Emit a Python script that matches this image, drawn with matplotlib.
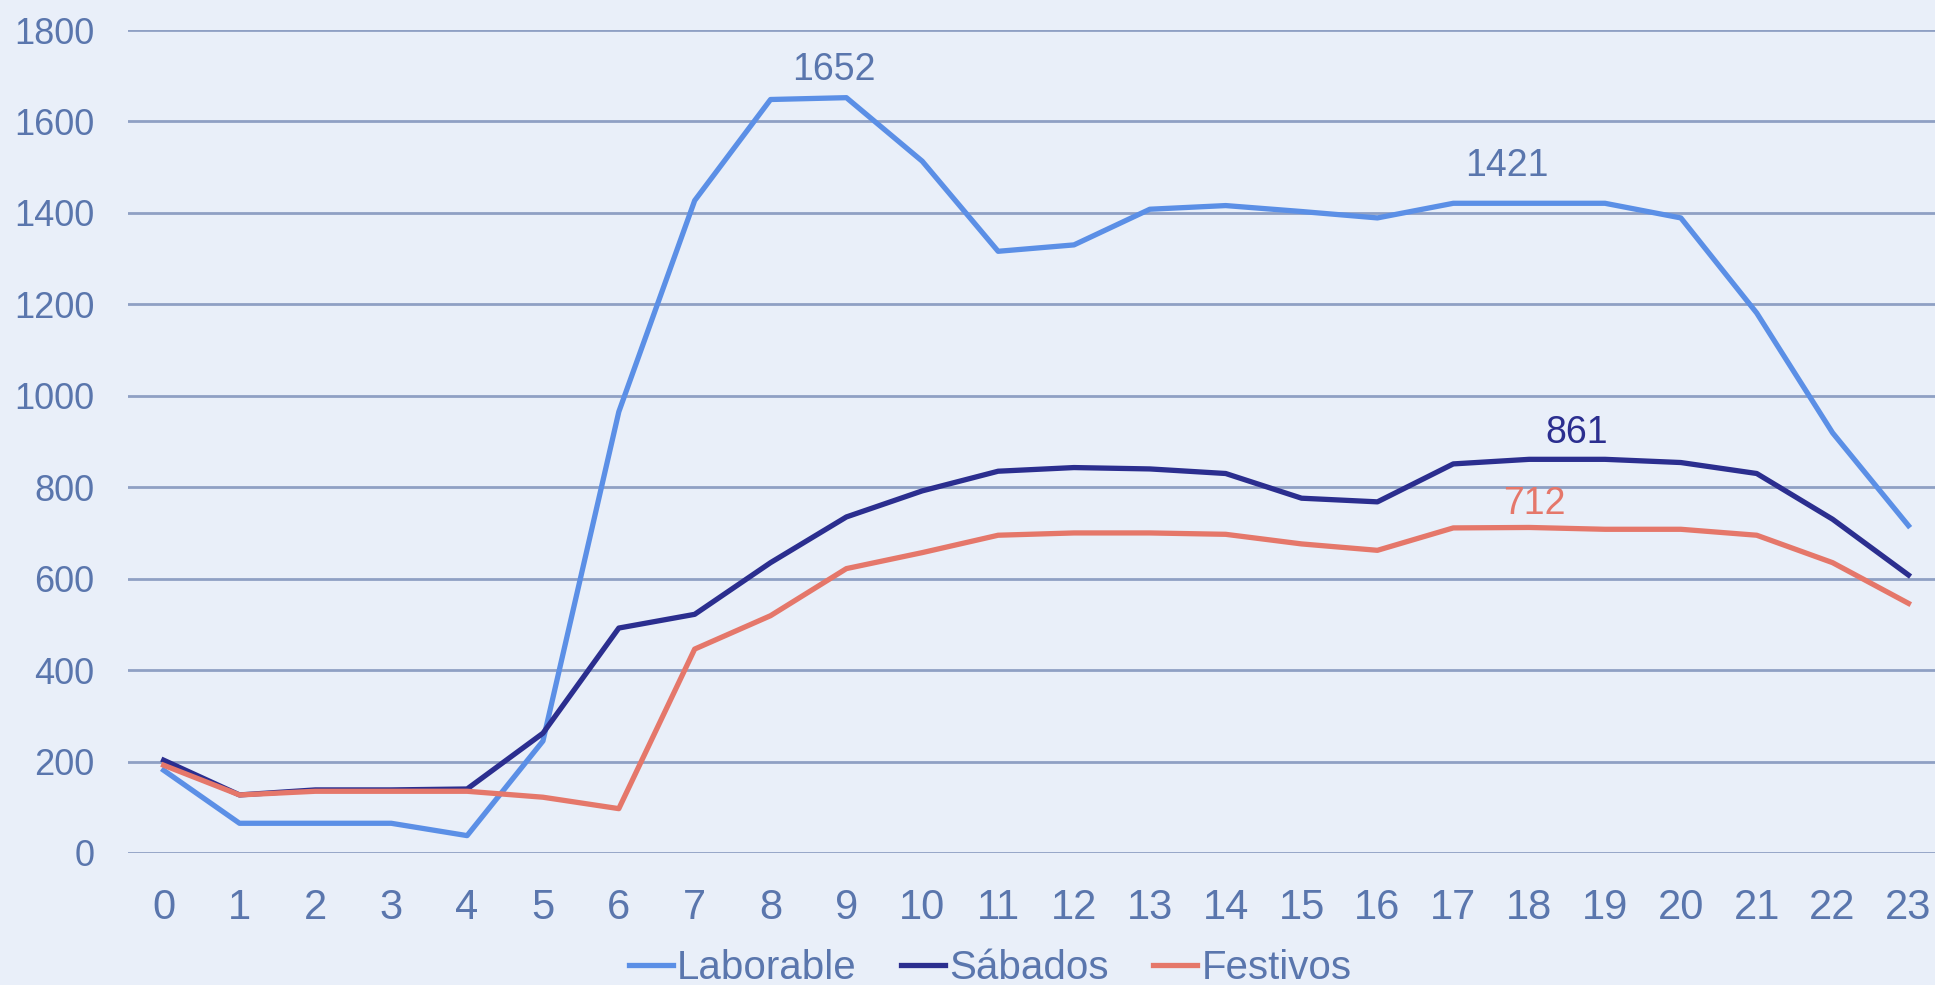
import matplotlib.pyplot as plt

# hourly values
hours = list(range(24))
laborable = [181, 65, 65, 65, 38, 245, 965, 1427, 1648, 1652, 1513, 1316,
             1330, 1408, 1416, 1403, 1389, 1421, 1421, 1421, 1389, 1181, 919, 716]
sabados = [203, 127, 138, 138, 140, 262, 492, 522, 635, 735, 792, 835,
           843, 840, 830, 776, 768, 851, 861, 861, 854, 830, 730, 608]
festivos = [192, 127, 135, 135, 135, 122, 97, 446, 519, 622, 657, 695,
            700, 700, 697, 676, 662, 711, 712, 708, 708, 695, 635, 546]

c_lab = "#5b8fe6"
c_sab = "#2b2e8f"
c_fes = "#e5776a"
c_txt = "#5a76ad"
bg = "#e9eff9"

plt.rcParams['font.family'] = ['Liberation Sans', 'DejaVu Sans']

fig = plt.figure(figsize=(19.35, 9.85), dpi=100, facecolor=bg)
ax = fig.add_axes([128 / 1935, 1 - 853 / 985, 1 - 128 / 1935, (853 - 30) / 985])
ax.set_facecolor(bg)

ax.plot(hours, laborable, color=c_lab, lw=3.8, label="Laborable", zorder=3)
ax.plot(hours, sabados, color=c_sab, lw=3.8, label="Sábados", zorder=3)
ax.plot(hours, festivos, color=c_fes, lw=3.8, label="Festivos", zorder=3)

ax.set_ylim(0, 1800)
ax.set_xlim(-0.47, 23.35)
ax.set_yticks(range(0, 1801, 200))
ax.set_xticks(hours)
ax.grid(axis="y", color="#8fa0c4", lw=2)
ax.set_axisbelow(True)
for s in ax.spines.values():
    s.set_visible(False)
ax.tick_params(axis="both", length=0, labelcolor=c_txt)
ax.tick_params(axis="y", pad=24, labelsize=26)
ax.tick_params(axis="x", pad=25, labelsize=30)

# data labels
kw = dict(textcoords="offset pixels", ha="center", va="center", fontsize=27)
ax.annotate("1652", (9, laborable[9]), xytext=(-13, 28), color=c_txt, **kw)
ax.annotate("1421", (18, laborable[18]), xytext=(-22, 37), color=c_txt, **kw)
ax.annotate("861", (18, sabados[18]), xytext=(48, 26), color=c_sab, **kw)
ax.annotate("712", (18, festivos[18]), xytext=(5, 23), color=c_fes, **kw)

leg = fig.legend(loc="center", bbox_to_anchor=(990 / 1935, 1 - 968 / 985), ncol=3,
                 frameon=False, handlelength=1.1, handletextpad=0.1,
                 columnspacing=1.1, labelcolor=c_txt, fontsize=29)

fig.savefig("out.png", dpi=100, facecolor=bg)
